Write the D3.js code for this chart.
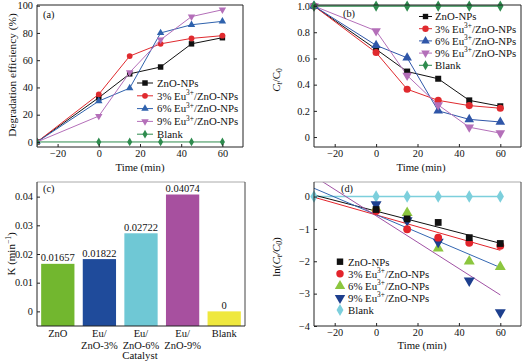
<!DOCTYPE html>
<html><head><meta charset="utf-8">
<script src="https://cdn.jsdelivr.net/npm/d3@7/dist/d3.min.js"></script>
<style>
body{margin:0;background:#fff;}
text{font-family:"Liberation Serif","Times New Roman",serif;fill:#111;}
</style></head><body>
<svg id="c" width="522" height="364"></svg>
<script>
// ---------- DATA ----------
const times = [-30, 0, 15, 30, 45, 60];
const seriesNames = ["ZnO-NPs", "3% Eu3+/ZnO-NPs", "6% Eu3+/ZnO-NPs", "9% Eu3+/ZnO-NPs", "Blank"];
// (a) degradation efficiency (%)
const degZnO   = [0, 32.5, 50, 55, 72, 76.5];
const deg3     = [0, 35, 63, 72, 76, 78];
const deg6     = [0, 30, 39.5, 80, 86, 88.5];
const deg9     = [0, 19, 51, 75, 92, 97];
const degBlank = [0, 0, 0, 0, 0, 0];
// (b) Ct/C0
const ctZnO   = [1, 0.67, 0.50, 0.445, 0.28, 0.235];
const ct3     = [1, 0.645, 0.365, 0.28, 0.24, 0.22];
const ct6     = [1, 0.70, 0.605, 0.20, 0.135, 0.115];
const ct9     = [1, 0.81, 0.47, 0.245, 0.075, 0.03];
const ctBlank = [1, 1, 1, 1, 1, 1];
// (c) rate constants
const catalysts = ["ZnO", "Eu/ZnO-3%", "Eu/ZnO-6%", "Eu/ZnO-9%", "Blank"];
const catLabels = [["ZnO"], ["Eu/", "ZnO-3%"], ["Eu/", "ZnO-6%"], ["Eu/", "ZnO-9%"], ["Blank"]];
const kValues = [0.01657, 0.01822, 0.02722, 0.04074, 0];
const kLabels = ["0.01657", "0.01822", "0.02722", "0.04074", "0"];
// (d) ln(Ct/C0)
const lnZnO   = [0, -0.40, -0.69, -0.80, -1.27, -1.45];
const ln3     = [0, -0.45, -1.01, -1.27, -1.43, -1.52];
const ln6     = [0, -0.36, -0.50, -1.60, -2.00, -2.17];
const ln9     = [0, -0.24, -0.74, -1.40, -2.60, -3.58];
const lnBlank = [0, 0, 0, 0, 0, 0];
const fitSlopes = [-0.01657, -0.01822, -0.02722, -0.04074];
const fitIntercepts = [-0.45, -0.567, -0.56, -0.595];  // value at t = 0
// tick values
const timeTicks = [-20, 0, 20, 40, 60];
const degTicks = [0, 20, 40, 60, 80, 100];
const ctTicks = [0, 0.2, 0.4, 0.6, 0.8, 1.0];
const kTicks = [0, 0.01, 0.02, 0.03, 0.04];
const lnTicks = [0, -1, -2, -3, -4];

// ---------- DRAW ----------
const svg = d3.select("#c");
const FS = 10.3;

function addLabel(g, str, x, y, anchor, size) {
  const t = g.append("text").attr("x", x).attr("y", y).attr("text-anchor", anchor || "start")
    .attr("font-size", size || FS);
  const m = str.match(/^(.*Eu)3\+(.*)$/);
  if (m) {
    t.append("tspan").text(m[1]);
    t.append("tspan").text("3+").attr("font-size", (size || FS) * 0.68).attr("dy", -4.5);
    t.append("tspan").text(m[2]).attr("dy", 4.5);
  } else t.text(str);
  return t;
}

function symbolPath(type, size) {
  const map = {sq: d3.symbolSquare, ci: d3.symbolCircle, tu: d3.symbolTriangle, td: d3.symbolTriangle, di: d3.symbolDiamond};
  return d3.symbol().type(map[type]).size(size)();
}
function drawMarker(g, type, x, y, size, color) {
  g.append("path").attr("d", symbolPath(type, size))
    .attr("transform", `translate(${x},${y})` + (type === "td" ? " rotate(180)" : ""))
    .attr("fill", color);
}

function frame(g, x, y, topColor, otherColor) {
  const [x0, x1] = x.range(), [y0, y1] = y.range();
  g.append("line").attr("x1", x0).attr("x2", x1).attr("y1", y1).attr("y2", y1).attr("stroke", topColor).attr("stroke-width", 1);
  g.append("line").attr("x1", x1).attr("x2", x1).attr("y1", y1).attr("y2", y0).attr("stroke", otherColor).attr("stroke-width", 1);
  g.append("line").attr("x1", x0).attr("x2", x1).attr("y1", y0).attr("y2", y0).attr("stroke", "#222").attr("stroke-width", 1);
  g.append("line").attr("x1", x0).attr("x2", x0).attr("y1", y1).attr("y2", y0).attr("stroke", "#222").attr("stroke-width", 1);
}

function axes(g, x, y, xt, yt, yfmt, withX) {
  const [x0] = x.range(), [y0] = y.range();
  if (withX) {
    const ax = g.append("g").attr("transform", `translate(0,${y0})`)
      .call(d3.axisBottom(x).tickValues(xt).tickSizeInner(-3).tickSizeOuter(0).tickPadding(3).tickFormat(d => d < 0 ? "\u2212" + (-d) : d));
    ax.select(".domain").remove();
    ax.selectAll("text").attr("font-size", FS).attr("font-family", "Liberation Serif").attr("fill", "#111");
    ax.selectAll("line").attr("stroke", "#222");
  }
  const ay = g.append("g").attr("transform", `translate(${x0},0)`)
    .call(d3.axisLeft(y).tickValues(yt).tickSizeInner(-3).tickSizeOuter(0).tickPadding(4).tickFormat(yfmt));
  ay.select(".domain").remove();
  ay.selectAll("text").attr("font-size", FS).attr("font-family", "Liberation Serif").attr("fill", "#111");
  ay.selectAll("line").attr("stroke", "#222");
}

function clipFor(id, x, y) {
  const [x0, x1] = x.range(), [y0, y1] = y.range();
  svg.append("clipPath").attr("id", id).append("rect").attr("x", x0).attr("y", y1).attr("width", x1 - x0).attr("height", y0 - y1);
  return `url(#${id})`;
}

// ---------- Panel (a) ----------
{
  const x = d3.scaleLinear().domain([-30, 70]).range([37, 243]);
  const y = d3.scaleLinear().domain([-3.7, 100.5]).range([147, 5]);
  const g = svg.append("g");
  const data = [degZnO, deg3, deg6, deg9, degBlank];
  const cols = ["#111111", "#e02a2e", "#2f62ad", "#b46fb9", "#2e8b4e"];
  const marks = ["sq", "ci", "tu", "td", "di"];
  const msz = [30, 26, 24, 24, 22];
  const gd = g.append("g").attr("clip-path", clipFor("ca", x, y));
  const line = d3.line().x((d, i) => x(times[i])).y(d => y(d));
  data.forEach((s, k) => {
    gd.append("path").attr("d", line(s)).attr("fill", "none").attr("stroke", cols[k]).attr("stroke-width", 1);
    s.forEach((v, i) => drawMarker(gd, marks[k], x(times[i]), y(v), msz[k], cols[k]));
  });
  frame(g, x, y, "#222", "#222");
  axes(g, x, y, timeTicks, degTicks, d => d, true);
  g.append("text").attr("x", 43).attr("y", 18).attr("font-size", FS).text("(a)");
  g.append("text").attr("transform", "translate(16,75) rotate(-90)").attr("text-anchor", "middle").attr("font-size", 11.3).text("Degradation efficiency (%)");
  g.append("text").attr("x", 140).attr("y", 170.5).attr("text-anchor", "middle").attr("font-size", 10.8).text("Time (min)");
  const ly0 = 83, ldy = 12.8;
  seriesNames.forEach((n, k) => {
    const yy = ly0 + k * ldy;
    g.append("line").attr("x1", 137).attr("x2", 153).attr("y1", yy).attr("y2", yy).attr("stroke", cols[k]).attr("stroke-width", 1);
    drawMarker(g, marks[k], 145, yy, msz[k], cols[k]);
    addLabel(g, n, 157, yy + 3.8, "start", 10.8);
  });
}

// ---------- Panel (b) ----------
{
  const x = d3.scaleLinear().domain([-30, 70]).range([314, 521]);
  const y = d3.scaleLinear().domain([-0.076, 1.008]).range([147, 5]);
  const g = svg.append("g");
  const data = [ctZnO, ct3, ct6, ct9, ctBlank];
  const cols = ["#111111", "#e02a2e", "#2f56a8", "#b46fb9", "#2e8b4e"];
  const marks = ["sq", "ci", "tu", "td", "di"];
  const msz = [36, 40, 40, 40, 36];
  const gd = g.append("g").attr("clip-path", clipFor("cb", x, y));
  const line = d3.line().x((d, i) => x(times[i])).y(d => y(d));
  data.forEach((s, k) => {
    gd.append("path").attr("d", line(s)).attr("fill", "none").attr("stroke", cols[k]).attr("stroke-width", k === 4 ? 1.5 : 1);
  });
  data.forEach((s, k) => s.forEach((v, i) => drawMarker(g, marks[k], x(times[i]), y(v), msz[k], cols[k])));
  frame(g, x, y, "#222", "#222");
  axes(g, x, y, timeTicks, ctTicks, d => d === 0 ? "0" : d3.format(".1f")(d), true);
  g.append("text").attr("x", 343).attr("y", 17).attr("font-size", FS).text("(b)");
  const yt = g.append("text").attr("transform", "translate(280,80) rotate(-90)").attr("text-anchor", "middle").attr("font-size", 11);
  yt.append("tspan").text("C").attr("font-style", "italic");
  yt.append("tspan").text("t").attr("font-style", "italic").attr("font-size", 7.5).attr("dy", 2);
  yt.append("tspan").text("/C").attr("dy", -2);
  yt.append("tspan").text("0").attr("font-size", 7.5).attr("dy", 2);
  g.append("text").attr("x", 421).attr("y", 171).attr("text-anchor", "middle").attr("font-size", 10.8).text("Time (min)");
  const ly0 = 16.5, ldy = 12.2;
  seriesNames.forEach((n, k) => {
    const yy = ly0 + k * ldy;
    g.append("line").attr("x1", 419).attr("x2", 432).attr("y1", yy).attr("y2", yy).attr("stroke", cols[k]).attr("stroke-width", 1);
    drawMarker(g, marks[k], 425.5, yy, msz[k] * 0.8, cols[k]);
    addLabel(g, n, 435, yy + 3.8, "start", 10.8);
  });
}

// ---------- Panel (c) ----------
{
  const x = d3.scaleBand().domain(catalysts).range([37, 245]).paddingInner(0.2).paddingOuter(0.1);
  const y = d3.scaleLinear().domain([-0.0051, 0.0451]).range([326, 182]);
  const g = svg.append("g");
  const cols = ["#72b72f", "#1f4b9b", "#6fc8d5", "#a7509f", "#efe83e"];
  g.selectAll("rect.bar").data(kValues).join("rect").attr("class", "bar")
    .attr("x", (d, i) => x(catalysts[i])).attr("width", x.bandwidth())
    .attr("y", d => y(d)).attr("height", d => y(y.domain()[0]) - y(d))
    .attr("fill", (d, i) => cols[i]);
  g.selectAll("text.val").data(kValues).join("text").attr("class", "val")
    .attr("x", (d, i) => x(catalysts[i]) + x.bandwidth() / 2).attr("y", d => y(d) - 2.5)
    .attr("text-anchor", "middle").attr("font-size", 10.5).text((d, i) => kLabels[i]);
  const lx = d3.scaleLinear().domain([0, 1]).range([37, 245]);
  frame(g, lx, y, "#aaaaaa", "#444");
  axes(g, lx, y, [], kTicks, d => d === 0 ? "0" : d3.format(".2f")(d), false);
  catLabels.forEach((ls, i) => ls.forEach((l, j) => {
    g.append("text").attr("x", x(catalysts[i]) + x.bandwidth() / 2).attr("y", 336.5 + j * 12)
      .attr("text-anchor", "middle").attr("font-size", 10.5).text(l);
  }));
  g.append("text").attr("x", 43).attr("y", 192).attr("font-size", FS).text("(c)");
  const yt = g.append("text").attr("transform", "translate(15,254) rotate(-90)").attr("text-anchor", "middle").attr("font-size", 11);
  yt.append("tspan").text("K (min");
  yt.append("tspan").text("\u22121").attr("font-size", 7.5).attr("dy", -4);
  yt.append("tspan").text(")").attr("dy", 4);
  g.append("text").attr("x", 140).attr("y", 359).attr("text-anchor", "middle").attr("font-size", 10.8).text("Catalyst");
}

// ---------- Panel (d) ----------
{
  const x = d3.scaleLinear().domain([-30, 70]).range([314, 521]);
  const y = d3.scaleLinear().domain([-4, 0.45]).range([326, 182]);
  const g = svg.append("g");
  const data = [lnZnO, ln3, ln6, ln9, lnBlank];
  const cols = ["#111111", "#e3242b", "#8cc63f", "#1d3f8e", "#7ccfdc"];
  const fitCols = ["#111111", "#e3242b", "#3467b2", "#a052a4"];
  const marks = ["sq", "ci", "tu", "td", "di"];
  const msz = [46, 48, 52, 52, 46];
  const gd = g.append("g").attr("clip-path", clipFor("cd", x, y));
  gd.append("path").attr("d", d3.line().x((d, i) => x(times[i])).y(d => y(d))(lnBlank))
    .attr("fill", "none").attr("stroke", cols[4]).attr("stroke-width", 1.5);
  fitSlopes.forEach((s, k) => {
    const ends = [-30, 60];
    gd.append("path").attr("d", d3.line().x(t => x(t)).y(t => y(fitIntercepts[k] + s * t))(ends))
      .attr("fill", "none").attr("stroke", fitCols[k]).attr("stroke-width", 1);
  });
  [4, 2, 3, 1, 0].forEach(k => data[k].forEach((v, i) => {
    if (k < 4 && i === 0) return;
    drawMarker(g, marks[k], x(times[i]), y(v), msz[k], cols[k]);
  }));
  frame(g, x, y, "#aaaaaa", "#444");
  axes(g, x, y, timeTicks, lnTicks, d => d < 0 ? "\u2212" + (-d) : d, true);
  g.append("text").attr("x", 341).attr("y", 192).attr("font-size", FS).text("(d)");
  const yt = g.append("text").attr("transform", "translate(280,257) rotate(-90)").attr("text-anchor", "middle").attr("font-size", 11);
  yt.append("tspan").text("ln(");
  yt.append("tspan").text("C").attr("font-style", "italic");
  yt.append("tspan").text("t").attr("font-style", "italic").attr("font-size", 7.5).attr("dy", 2);
  yt.append("tspan").text("/C").attr("font-style", "italic").attr("dy", -2);
  yt.append("tspan").text("0").attr("font-style", "italic").attr("font-size", 7.5).attr("dy", 2);
  yt.append("tspan").text(")").attr("dy", -2);
  g.append("text").attr("x", 422).attr("y", 349).attr("text-anchor", "middle").attr("font-size", 10.8).text("Time (min)");
  const ly0 = 261.7, ldy = 12.1;
  seriesNames.forEach((n, k) => {
    const yy = ly0 + k * ldy;
    drawMarker(g, marks[k], 340, yy, msz[k] * 0.9, cols[k]);
    addLabel(g, n, 348, yy + 3.8, "start", 10.8);
  });
}
</script></body></html>
